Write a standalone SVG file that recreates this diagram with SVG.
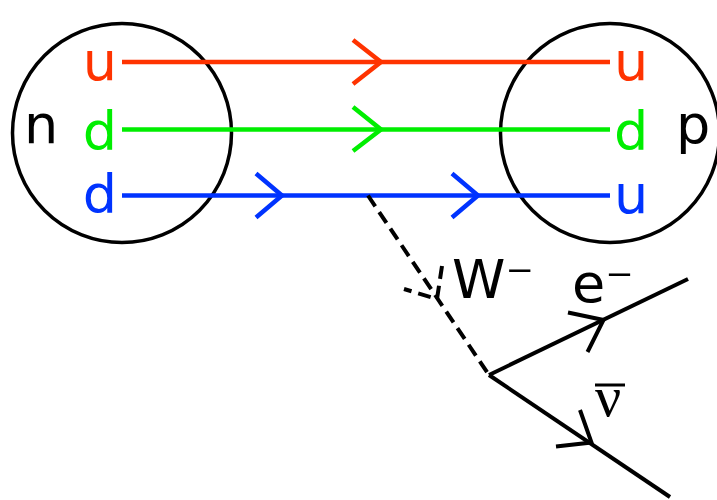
<svg xmlns="http://www.w3.org/2000/svg" width="717" height="500" viewBox="0 0 717 500">
<style>
.hadron{fill:none;stroke:#000;stroke-width:3.5}
.lbl{font-family:"DejaVu Sans",sans-serif;font-size:54px}
.q{fill:none;stroke-width:4.5}
.red{stroke:#ff3300}.green{stroke:#00ee00}.blue{stroke:#0033ff}
.blk{fill:none;stroke:#000;stroke-width:4}
.dash{fill:none;stroke:#000;stroke-width:4;stroke-dasharray:13,7}
</style>
<rect width="717" height="500" fill="#fff"/>
<g id="neutron">
<circle class="hadron" cx="122" cy="133" r="109.5"/>
<text class="lbl" x="24" y="143">n</text>
<text class="lbl" x="117" y="79.5" text-anchor="end" fill="#ff3300">u</text>
<text class="lbl" x="117" y="149.5" text-anchor="end" fill="#00ee00">d</text>
<text class="lbl" x="117" y="213" text-anchor="end" fill="#0033ff">d</text>
</g>
<g id="proton">
<circle class="hadron" cx="610" cy="133" r="109.5"/>
<text class="lbl" x="676" y="143">p</text>
<text class="lbl" x="614" y="79.5" fill="#ff3300">u</text>
<text class="lbl" x="614" y="150" fill="#00ee00">d</text>
<text class="lbl" x="614" y="213" fill="#0033ff">u</text>
</g>
<g id="connectors">
<line class="q red" x1="122" y1="62" x2="610" y2="62"/>
<polyline class="q red" points="353,40 381,62 353,84"/>
<line class="q green" x1="122" y1="129.5" x2="610" y2="129.5"/>
<polyline class="q green" points="353,107 381,129.5 353,151"/>
<line class="q blue" x1="122" y1="195.5" x2="610" y2="195.5"/>
<polyline class="q blue" points="256,173.5 282,195.5 256,217.5"/>
<polyline class="q blue" points="452,173.5 478,195.5 452,217.5"/>
<line class="dash" x1="368" y1="195.5" x2="489" y2="375"/>
<polyline class="dash" points="442,266 437,299 404,289"/>
<line class="blk" x1="489" y1="375" x2="688" y2="279"/>
<polyline class="blk" points="568,312.5 603.5,320 587.5,352"/>
<line class="blk" x1="489" y1="375" x2="670" y2="497"/>
<polyline class="blk" points="580,410 591.5,442.5 556,446.5"/>
</g>
<g id="W">
<text class="lbl" x="452" y="298">W⁻</text>
</g>
<g id="electron">
<text class="lbl" x="572" y="301.5">e⁻</text>
</g>
<g id="antineutrino">
<text x="595" y="416" font-family="'Liberation Serif',serif" font-size="58">ν</text>
<line x1="595" y1="385" x2="625" y2="385" stroke="#000" stroke-width="3"/>
</g>
</svg>
